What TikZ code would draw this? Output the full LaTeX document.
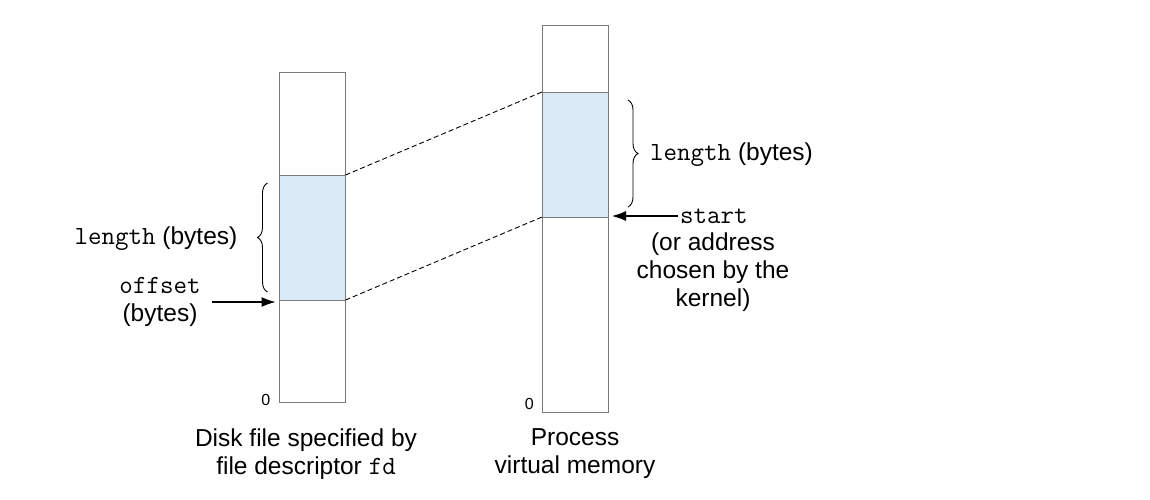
\documentclass[tikz,border=0pt]{standalone}
\usepackage{fontspec}
\setmainfont{Liberation Sans}
\setmonofont{Latin Modern Mono}[Scale=1.07]
\usetikzlibrary{arrows.meta,positioning,decorations.pathreplacing}
\definecolor{segblue}{HTML}{DAEBF7}
\definecolor{boxgray}{HTML}{7A7A7A}

\begin{document}
\begin{tikzpicture}[
    x = 1pt,
    y = -1pt,
    >={Latex[length=14pt,width=10pt]},
    font = \fontsize{24.5}{28}\selectfont,
    column/.style = {
      draw = boxgray,
      fill = white,
      line width = 1pt,
      rectangle,
      inner sep = 0pt,
      outer sep = 0pt,
      minimum width = 66pt
    },
    segment/.style = {
      column,
      fill = segblue,
      minimum height = 125pt
    },
    mapline/.style = {
      line width = 0.9pt,
      dash pattern = on 5pt off 3pt
    },
    bracket/.style = {
      decorate,
      decoration = {brace, amplitude = 10pt},
      line width = 0.9pt
    },
    pointer/.style = {
      ->,
      line width = 1.1pt
    },
    txt/.style = {
      align = center,
      inner sep = 0pt
    },
    zero/.style = {
      font = \fontsize{16}{18}\selectfont,
      inner sep = 0pt
    }
  ]
  \useasboundingbox (0,0) rectangle (1150,499);

  % the file and the address space
  \node[column, minimum height = 330pt] (disk) at (312.5,237) {};
  \node[segment] (diskseg) at (312.5,237.5) {};
  \node[column, minimum height = 387pt] (vm) at (575,218.5) {};
  \node[segment] (vmseg) at (575,154.5) {};

  \draw[mapline] (diskseg.north east) -- (vmseg.north west);
  \draw[mapline] (diskseg.south east) -- (vmseg.south west);

  \node[zero, anchor = east] (diskzero) at ([xshift=-9pt,yshift=2pt]disk.south west) {0};
  \node[zero, anchor = east] (vmzero) at ([xshift=-8pt,yshift=8pt]vm.south west) {0};

  % left side
  \draw[bracket] ([xshift=-12pt,yshift=8pt]diskseg.south west)
    -- ([xshift=-12pt,yshift=-8pt]diskseg.north west);
  \node[txt, anchor = east] (lenleft) at ([xshift=-42pt,yshift=-1pt]diskseg.west) {\texttt{length} (bytes)};

  \node[txt] (offlbl) at (160,302) {\texttt{offset}\\(bytes)};
  \draw[pointer, shorten <= 11pt, shorten >= 4pt] (offlbl.east) -- (offlbl.east -| diskseg.west);

  % right side
  \draw[bracket] ([xshift=20pt,yshift=-8pt]vmseg.north east)
    -- ([xshift=20pt,yshift=10pt]vmseg.south east);
  \node[txt, anchor = west] (lenright) at ([xshift=42pt]vmseg.east) {\texttt{length} (bytes)};

  \node[txt, anchor = west] (startlbl) at (680,216) {\texttt{start}};
  \draw[pointer, shorten <= 2pt, shorten >= 4pt] (startlbl.west) -- (startlbl.west -| vmseg.east);
  \node[txt] (startnote) at (713,272) {(or address\\chosen by the\\kernel)};

  % captions
  \node[txt] (diskcap) at (306,454) {Disk file specified by\\file descriptor \texttt{fd}};
  \node[txt] (vmcap) at (575,454) {Process\\virtual memory};

\end{tikzpicture}
\end{document}
